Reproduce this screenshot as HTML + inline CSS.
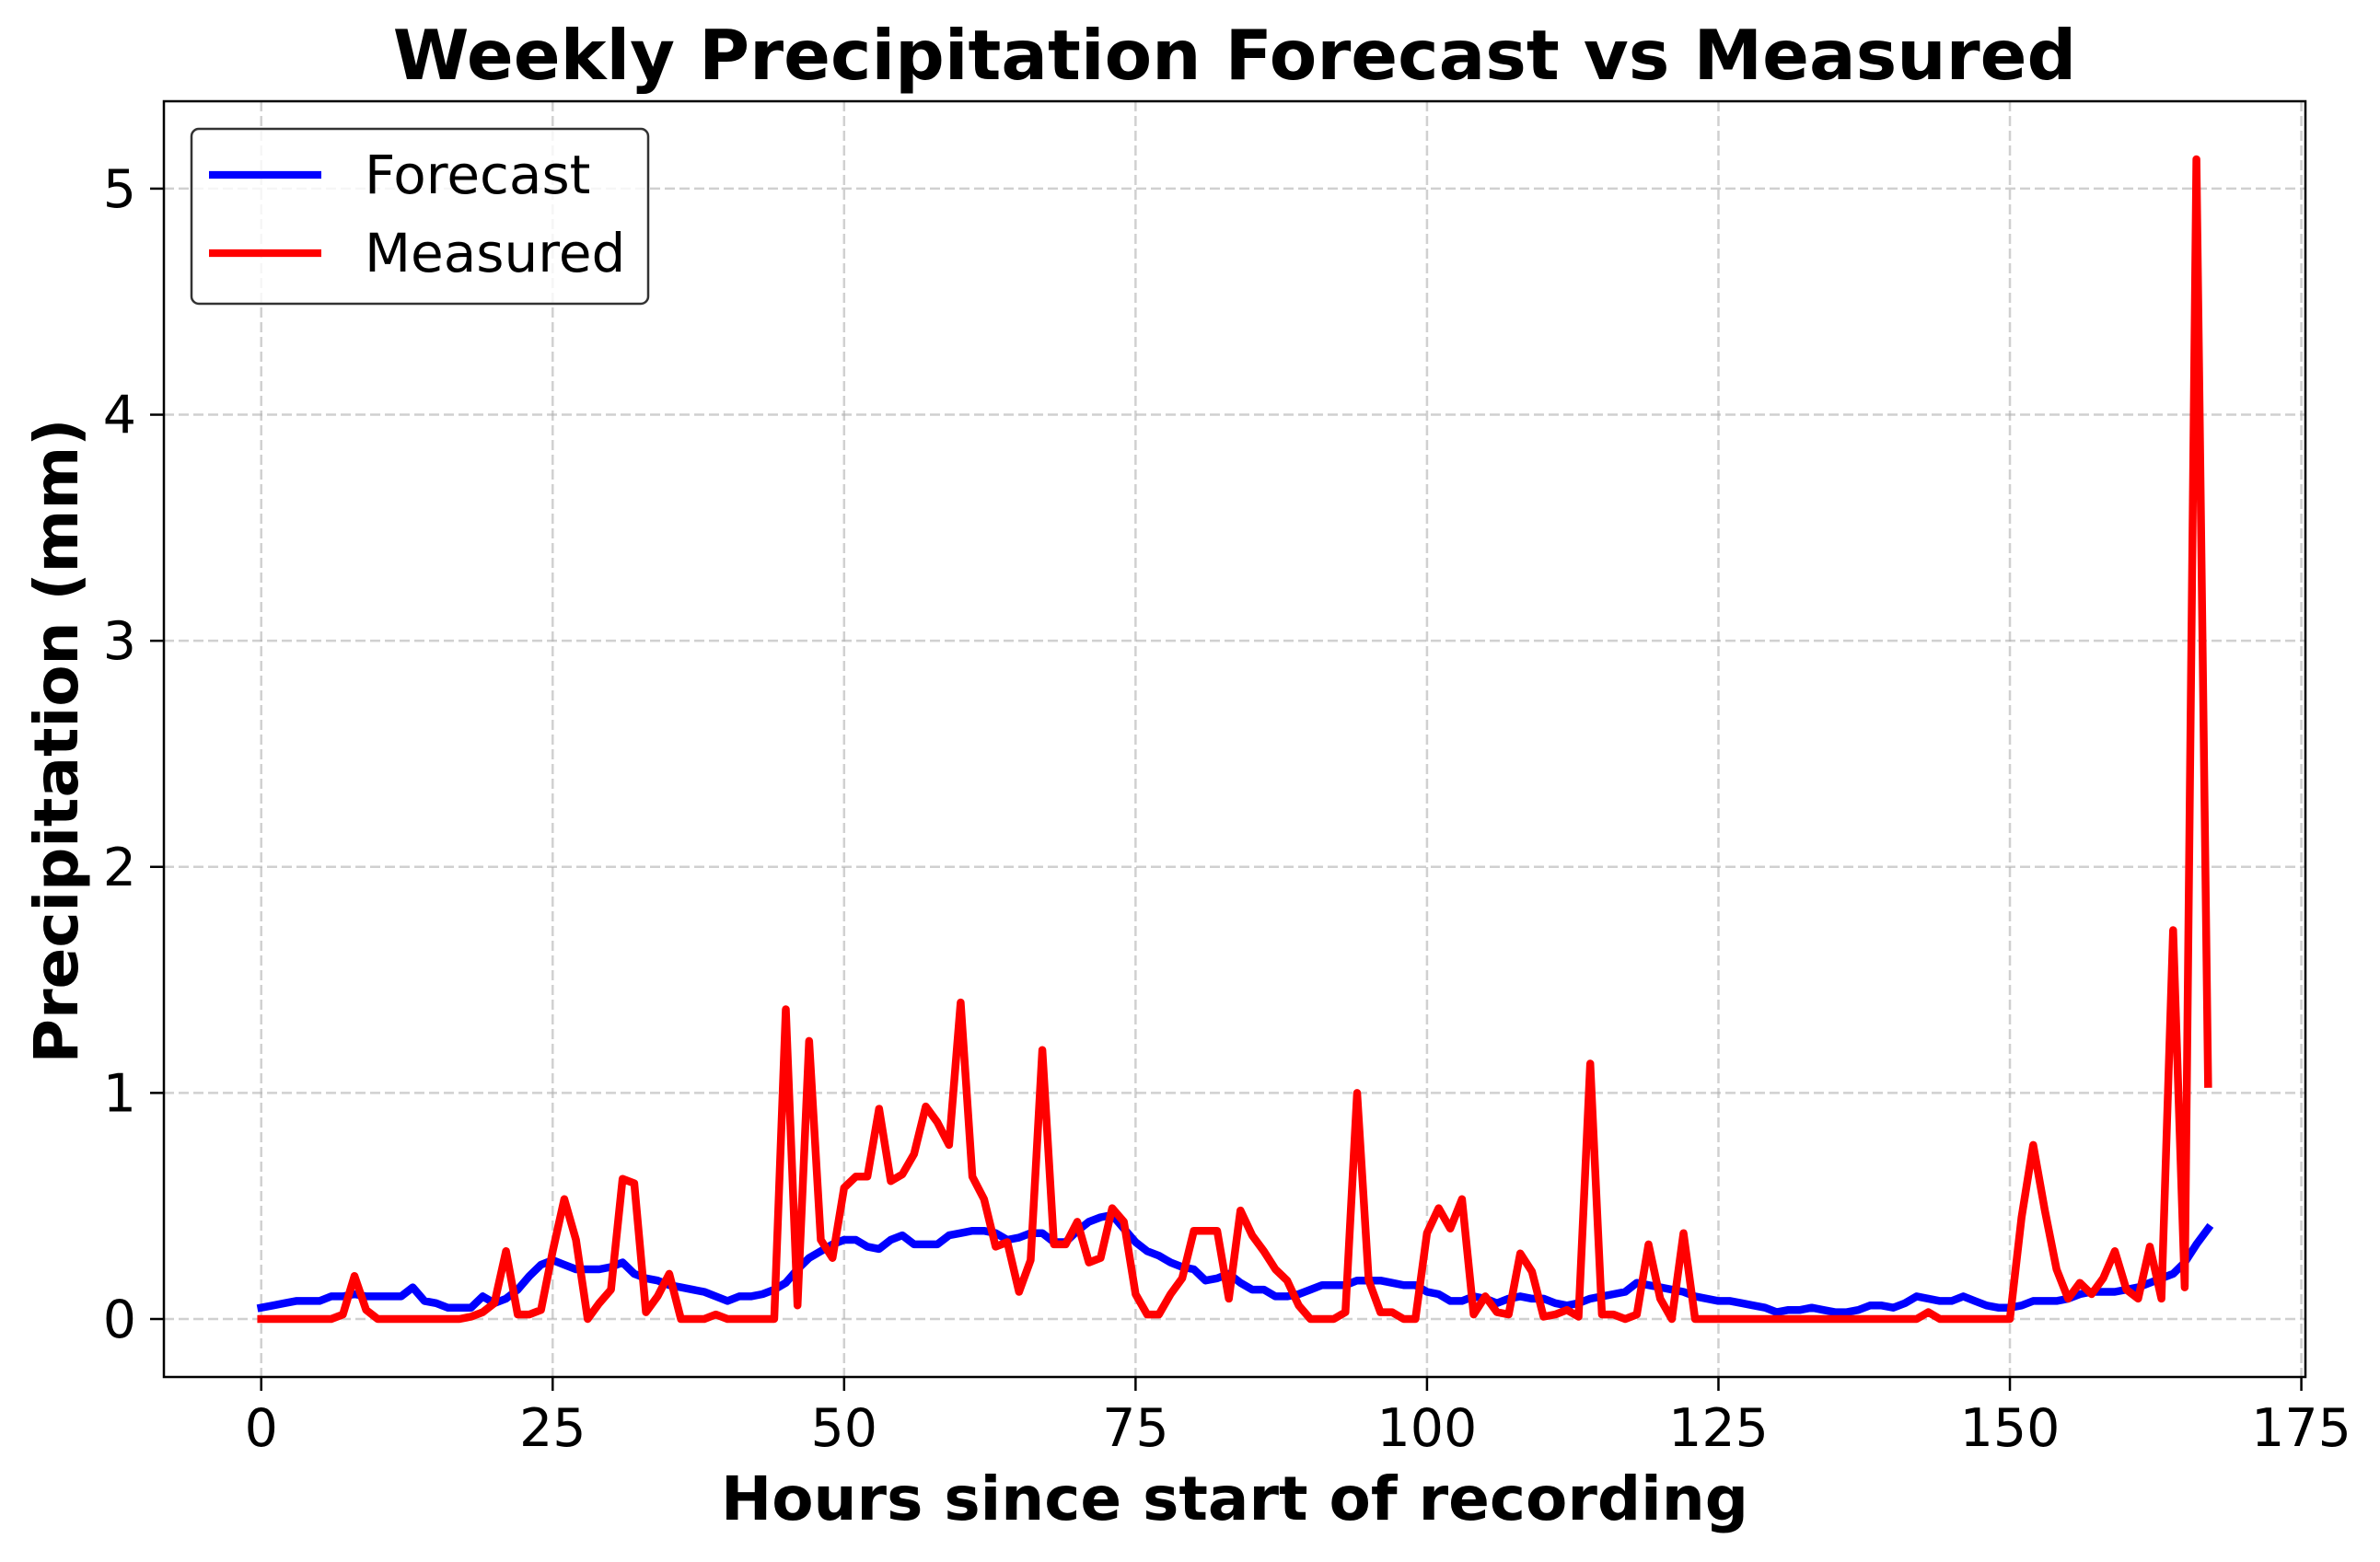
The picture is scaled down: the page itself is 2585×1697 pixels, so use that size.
<!DOCTYPE html>
<html><head><meta charset="utf-8"><style>
html,body{margin:0;padding:0;background:#fff}
svg{display:block;font-family:"DejaVu Sans","Liberation Sans",sans-serif}
</style></head><body>
<svg id="chart" width="2585" height="1697" viewBox="0 0 2585 1697">
<rect width="2585" height="1697" fill="#fff"/>
<g id="grid"></g>
<g id="series"></g>
<rect x="178" y="110" width="2326" height="1386" fill="none" stroke="#000" stroke-width="2.5"/>
<g id="ticks"></g>
<text x="1341" y="86" text-anchor="middle" font-size="75" font-weight="bold">Weekly Precipitation Forecast vs Measured</text>
<text x="1341" y="1651" text-anchor="middle" font-size="66" font-weight="bold">Hours since start of recording</text>
<text transform="translate(84,805) rotate(-90)" text-anchor="middle" font-size="66" font-weight="bold">Precipitation (mm)</text>
<g>
<rect x="208" y="140" width="496" height="190" rx="8" fill="#fff" fill-opacity="0.8" stroke="#333" stroke-width="2.5"/>
<g>
<line x1="227" y1="190" x2="349" y2="190" stroke="#0000ff" stroke-width="8.3"/>
<text x="396" y="210" font-size="58">Forecast</text></g>
<g>
<line x1="227" y1="275" x2="349" y2="275" stroke="#ff0000" stroke-width="8.3"/>
<text x="396" y="295" font-size="58">Measured</text></g>
</g>
</svg>
<script>
const forecast=[0.05,0.06,0.07,0.08,0.08,0.08,0.1,0.1,0.11,0.1,0.1,0.1,0.1,0.14,0.08,0.07,0.05,0.05,0.05,0.1,0.07,0.09,0.13,0.19,0.24,0.26,0.24,0.22,0.22,0.22,0.23,0.25,0.2,0.18,0.17,0.15,0.14,0.13,0.12,0.1,0.08,0.1,0.1,0.11,0.13,0.16,0.22,0.27,0.3,0.33,0.35,0.35,0.32,0.31,0.35,0.37,0.33,0.33,0.33,0.37,0.38,0.39,0.39,0.38,0.35,0.36,0.38,0.38,0.34,0.34,0.39,0.43,0.45,0.46,0.4,0.34,0.3,0.28,0.25,0.23,0.22,0.17,0.18,0.2,0.16,0.13,0.13,0.1,0.1,0.11,0.13,0.15,0.15,0.15,0.17,0.17,0.17,0.16,0.15,0.15,0.12,0.11,0.08,0.08,0.1,0.09,0.07,0.09,0.1,0.09,0.09,0.07,0.06,0.07,0.09,0.1,0.11,0.12,0.16,0.15,0.14,0.13,0.12,0.1,0.09,0.08,0.08,0.07,0.06,0.05,0.03,0.04,0.04,0.05,0.04,0.03,0.03,0.04,0.06,0.06,0.05,0.07,0.1,0.09,0.08,0.08,0.1,0.08,0.06,0.05,0.05,0.06,0.08,0.08,0.08,0.09,0.11,0.12,0.12,0.12,0.13,0.14,0.16,0.18,0.2,0.25,0.33,0.4];
const measured=[0,0,0,0,0,0,0,0.02,0.19,0.04,0,0,0,0,0,0,0,0,0.01,0.03,0.07,0.3,0.02,0.02,0.04,0.3,0.53,0.35,0,0.07,0.13,0.62,0.6,0.03,0.1,0.2,0,0,0,0.02,0,0,0,0,0,1.37,0.06,1.23,0.35,0.27,0.58,0.63,0.63,0.93,0.61,0.64,0.73,0.94,0.87,0.77,1.4,0.63,0.53,0.32,0.34,0.12,0.26,1.19,0.33,0.33,0.43,0.25,0.27,0.49,0.43,0.11,0.02,0.02,0.11,0.18,0.39,0.39,0.39,0.09,0.48,0.37,0.3,0.22,0.17,0.06,0,0,0,0.03,1.0,0.17,0.03,0.03,0,0,0.38,0.49,0.4,0.53,0.02,0.1,0.03,0.02,0.29,0.21,0.01,0.02,0.04,0.01,1.13,0.02,0.02,0,0.02,0.33,0.09,0,0.38,0,0,0,0,0,0,0,0,0,0,0,0,0,0,0,0,0,0,0,0,0.03,0,0,0,0,0,0,0,0.45,0.77,0.48,0.22,0.09,0.16,0.11,0.18,0.3,0.13,0.09,0.32,0.09,1.72,0.14,5.13,1.04];
const xTicks=[0,25,50,75,100,125,150,175];
const yTicks=[0,1,2,3,4,5];
const L=178,R=2504,T=110,B=1496,xmin=-8.35,xmax=175.35,ymin=-0.2565,ymax=5.3865;
function sx(v){return L+(v-xmin)/(xmax-xmin)*(R-L);}
function sy(v){return B-(v-ymin)/(ymax-ymin)*(B-T);}
const NS='http://www.w3.org/2000/svg';
const grid=document.getElementById('grid'),ticks=document.getElementById('ticks'),series=document.getElementById('series');
function mk(tag,attrs,parent){const e=document.createElementNS(NS,tag);for(const k in attrs)e.setAttribute(k,attrs[k]);parent.appendChild(e);return e;}
xTicks.forEach(t=>{
  const x=sx(t);
  const g=mk('line',{x1:x,x2:x,y1:T,y2:B,stroke:'#b0b0b0','stroke-opacity':0.6,'stroke-width':2.5,'stroke-dasharray':'11,5'},grid);
  
  
  const tk=mk('line',{x1:x,x2:x,y1:B,y2:B+15,stroke:'#000','stroke-width':2.5},ticks);
  
  
  const lb=mk('text',{x:x,y:B+75,'text-anchor':'middle','font-size':57},ticks);
  lb.textContent=t;
  
  
});
yTicks.forEach(t=>{
  const y=sy(t);
  const g=mk('line',{x1:L,x2:R,y1:y,y2:y,stroke:'#b0b0b0','stroke-opacity':0.6,'stroke-width':2.5,'stroke-dasharray':'11,5'},grid);
  
  
  const tk=mk('line',{x1:L-15,x2:L,y1:y,y2:y,stroke:'#000','stroke-width':2.5},ticks);
  
  
  const lb=mk('text',{x:L-30,y:y+20,'text-anchor':'end','font-size':57},ticks);
  lb.textContent=t;
  
  
});
function line(data,color,name){
  const pts=data.map((v,i)=>sx(i).toFixed(1)+','+sy(v).toFixed(1)).join(' ');
  const p=mk('polyline',{points:pts,fill:'none',stroke:color,'stroke-width':8.5,'stroke-linejoin':'round','stroke-linecap':'square'},series);
  
  
}
line(forecast,'#0000ff','forecast-line');
line(measured,'#ff0000','measured-line');
</script>
</body></html>
